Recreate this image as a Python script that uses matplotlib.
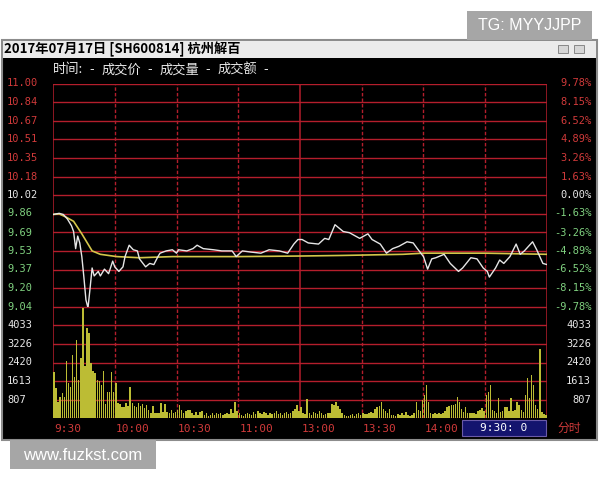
import matplotlib
matplotlib.use('Agg')
import matplotlib.pyplot as plt
from matplotlib.patches import Rectangle
import matplotlib.transforms as mtransforms

# ---------------- data ----------------
title_text = "2017年07月17日 [SH600814] 杭州解百"
header_parts = ["时间:", "-", "成交价", "-", "成交量", "-", "成交额", "-"]
header_x = [53, 89, 102, 147, 160, 205, 218, 263]
prev_close = 10.02
limit_pct = 9.78

price_labels = ['11.00', '10.84', '10.67', '10.51', '10.35', '10.18', '10.02',
                '9.86', '9.69', '9.53', '9.37', '9.20', '9.04']
pct_labels = ['9.78%', '8.15%', '6.52%', '4.89%', '3.26%', '1.63%', '0.00%',
              '-1.63%', '-3.26%', '-4.89%', '-6.52%', '-8.15%', '-9.78%']
vol_labels = ['4033', '3226', '2420', '1613', '807']
time_labels = ['9:30', '10:00', '10:30', '11:00', '13:00', '13:30', '14:00']
time_label_minutes = [0, 30, 60, 90, 120, 150, 180]
status_text = "9:30: 0"
mode_text = "分时"

price_minutes = [0, 3, 5, 7, 9, 10, 11, 12, 13, 14, 15, 16, 17, 18, 19, 20, 22, 23,
                 25, 27, 29, 30, 32, 34, 35, 37, 39, 41, 42, 45, 47, 49, 51, 52, 55,
                 58, 60, 61, 65, 68, 70, 73, 78, 82, 87, 89, 92, 96, 101, 105, 110,
                 114, 117, 119, 121, 124, 129, 132, 134, 137, 141, 144, 149, 153,
                 155, 159, 162, 165, 168, 172, 175, 177, 180, 182, 184, 186, 190,
                 193, 197, 199, 203, 206, 209, 211, 212, 215, 217, 219, 222, 225,
                 227, 229, 233, 235, 238, 240]
price_values = [9.85, 9.86, 9.85, 9.81, 9.75, 9.70, 9.55, 9.66, 9.60, 9.48, 9.30,
                9.10, 9.03, 9.20, 9.38, 9.31, 9.35, 9.31, 9.37, 9.33, 9.44, 9.39,
                9.35, 9.39, 9.48, 9.58, 9.54, 9.53, 9.46, 9.39, 9.42, 9.41, 9.48,
                9.51, 9.53, 9.54, 9.51, 9.54, 9.53, 9.55, 9.58, 9.55, 9.54, 9.53,
                9.53, 9.48, 9.53, 9.52, 9.51, 9.54, 9.53, 9.51, 9.59, 9.63, 9.63,
                9.60, 9.59, 9.64, 9.63, 9.76, 9.70, 9.69, 9.64, 9.68, 9.63, 9.59,
                9.51, 9.55, 9.57, 9.61, 9.60, 9.55, 9.48, 9.37, 9.46, 9.47, 9.50,
                9.42, 9.35, 9.38, 9.47, 9.46, 9.38, 9.35, 9.30, 9.38, 9.45, 9.42,
                9.48, 9.59, 9.50, 9.53, 9.61, 9.54, 9.42, 9.41]

avg_minutes = [0, 3, 6, 10, 14, 17, 19, 23, 31, 42, 58, 90, 120, 140, 170, 180, 210, 240]
avg_values = [9.85, 9.855, 9.83, 9.79, 9.68, 9.59, 9.53, 9.50, 9.48, 9.47, 9.48,
              9.48, 9.485, 9.49, 9.50, 9.51, 9.51, 9.50]

volumes = [
    1990, 1300, 725, 940, 1090, 940, 2490, 1520, 1350, 2755,
    1810, 3380, 1670, 2610, 4800, 2250, 3915, 3700, 2390, 2030,
    1960, 1670, 1600, 1450, 2030, 600, 1120, 1120, 1990, 1160,
    1550, 650, 620, 510, 480, 650, 540, 1350, 650, 540,
    510, 680, 540, 620, 435, 580, 360, 220, 540, 250,
    220, 250, 650, 290, 620, 290, 220, 360, 220, 290,
    360, 580, 360, 250, 330, 360, 360, 220, 145, 290,
    145, 290, 330, 145, 220, 100, 145, 220, 145, 220,
    180, 220, 150, 200, 250, 180, 390, 250, 720, 330,
    220, 150, 120, 180, 250, 200, 150, 290, 200, 330,
    250, 180, 290, 220, 150, 250, 180, 220, 330, 200,
    250, 150, 220, 290, 180, 250, 330, 400, 580, 300,
    470, 250, 200, 850, 220, 150, 290, 250, 180, 330,
    220, 150, 200, 250, 220, 610, 580, 720, 520, 400,
    250, 150, 100, 120, 150, 200, 100, 180, 220, 150,
    250, 200, 180, 220, 290, 250, 400, 470, 540, 720,
    400, 300, 220, 390, 150, 145, 120, 200, 150, 250,
    150, 260, 150, 120, 150, 250, 725, 360, 300, 800,
    1015, 1450, 725, 220, 180, 250, 200, 220, 180, 250,
    300, 510, 540, 580, 560, 600, 940, 725, 400, 290,
    480, 250, 250, 220, 250, 200, 300, 360, 440, 300,
    1015, 1160, 1450, 360, 330, 250, 870, 290, 330, 480,
    480, 300, 870, 300, 360, 725, 580, 360, 290, 1015,
    1740, 870, 1885, 1450, 580, 400, 3000, 290, 200, 150,
]
vol_minutes = [i + 0.5 for i in range(len(volumes))]

# ---------------- styling ----------------
W, H = 600, 480
GRID = '#b41e2c'
RED_TXT = '#d03a3a'
GREEN_TXT = '#7fd07f'
WHITE_TXT = '#e8e8e8'
MONO = 'DejaVu Sans Mono'
CJK = ['Noto Sans CJK SC', 'DejaVu Sans']

fig = plt.figure(figsize=(6, 4.8), dpi=100)
fig.patch.set_facecolor('white')


def fx(x):
    return x / W


def fy(y):
    return 1 - y / H


def rect(x0, y0, x1, y1, z=-10, **kw):
    fig.patches.append(Rectangle((fx(x0), fy(y1)), fx(x1) - fx(x0), fy(y0) - fy(y1),
                                 transform=fig.transFigure, zorder=z, **kw))


# window
rect(2, 40, 597, 440, facecolor='black', edgecolor='#8c8c8c', linewidth=1.5)
rect(3, 41, 596, 58, z=-9, facecolor='#ebebeb', edgecolor='none')
rect(558, 45, 568, 53, z=-8, facecolor='#d6d6d6', edgecolor='#7a7a7a', linewidth=0.6)
rect(574, 45, 584, 53, z=-8, facecolor='#d6d6d6', edgecolor='#7a7a7a', linewidth=0.6)
fig.text(fx(4), fy(49.5), title_text, family=CJK, fontsize=9.5, fontweight='bold',
         color='black', ha='left', va='center')
for part, hx in zip(header_parts, header_x):
    fig.text(fx(hx), fy(70), part, family=CJK, fontsize=9.5,
             color=WHITE_TXT, ha='left', va='center')

# axes
x0, x1 = 53, 547
y_top, y_mid, y_bot = 83.5, 306.7, 418.3
pax = fig.add_axes([fx(x0), fy(y_mid), fx(x1) - fx(x0), fy(y_top) - fy(y_mid)])
vax = fig.add_axes([fx(x0), fy(y_bot), fx(x1) - fx(x0), fy(y_mid) - fy(y_bot)])

plo = prev_close * (1 - limit_pct / 100)
phi = prev_close * (1 + limit_pct / 100)
vmax = float(vol_labels[0]) * 6 / 5

for ax in (pax, vax):
    ax.set_facecolor('black')
    ax.set_xlim(0, 240)
    ax.set_xticks([])
    ax.set_yticks([])
    for s in ax.spines.values():
        s.set_visible(False)
    for m in (30, 60, 90, 150, 180, 210):
        ax.axvline(m, color=GRID, lw=1.0, ls=(0, (2.5, 1.5)), zorder=1)
    for m in (0, 120, 240):
        ax.axvline(m, color=GRID, lw=1.1, zorder=1)

pax.set_ylim(plo, phi)
vax.set_ylim(0, vmax)
for i in range(13):
    pax.axhline(plo + i * (phi - plo) / 12, color=GRID, lw=1.0, zorder=1)
for i in range(7):
    vax.axhline(i * vmax / 6, color=GRID, lw=1.0, zorder=1)

vax.bar(vol_minutes, volumes, width=0.72, color='#bcbc34', edgecolor='none',
        antialiased=False, zorder=2)
pax.plot(avg_minutes, avg_values, color='#d4c64a', lw=1.2, zorder=3)
pax.plot(price_minutes, price_values, color='#e6e6e6', lw=1.0, zorder=4)

# axis labels
ltr_p = mtransforms.blended_transform_factory(fig.transFigure, pax.transData)
ltr_v = mtransforms.blended_transform_factory(fig.transFigure, vax.transData)
for lab, pct in zip(price_labels, pct_labels):
    v = float(lab)
    if abs(v - prev_close) < 1e-6:
        c = WHITE_TXT
    elif v > prev_close:
        c = RED_TXT
    else:
        c = GREEN_TXT
    fig.text(fx(7), v, lab, transform=ltr_p, family=MONO, fontsize=7.5,
             color=c, ha='left', va='center')
    fig.text(fx(592), v, pct, transform=ltr_p, family=MONO, fontsize=7.5,
             color=c, ha='right', va='center')
for lab in vol_labels:
    v = float(lab)
    fig.text(fx(7), v, lab, transform=ltr_v, family=MONO, fontsize=7.5,
             color=WHITE_TXT, ha='left', va='center')
    fig.text(fx(591), v, lab, transform=ltr_v, family=MONO, fontsize=7.5,
             color=WHITE_TXT, ha='right', va='center')

ttr = mtransforms.blended_transform_factory(vax.transData, fig.transFigure)
for lab, m in zip(time_labels, time_label_minutes):
    fig.text(m + 0.7, fy(429), lab, transform=ttr, family=MONO, fontsize=8,
             color=RED_TXT, ha='left', va='center')

rect(462, 420, 546, 436, z=-5, facecolor='#14146e', edgecolor='#6a5aa8', linewidth=0.8)
fig.text(fx(504), fy(428), status_text, family=MONO, fontsize=8, color='white',
         ha='center', va='center')
fig.text(fx(569), fy(428.5), mode_text, family=CJK, fontsize=8.5, color=RED_TXT,
         ha='center', va='center')

# watermarks
rect(467, 11, 592, 40, z=10, facecolor='#a6a6a6', edgecolor='none')
fig.text(fx(529.5), fy(25.5), "TG: MYYJJPP", family='Liberation Sans', fontsize=11.5,
         color='white', ha='center', va='center', zorder=11)
rect(10, 440, 156, 469, z=10, facecolor='#a6a6a6', edgecolor='none')
fig.text(fx(83), fy(455), "www.fuzkst.com", family='Liberation Sans', fontsize=12,
         color='white', ha='center', va='center', zorder=11)

fig.savefig('out.png', dpi=100, facecolor='white')
